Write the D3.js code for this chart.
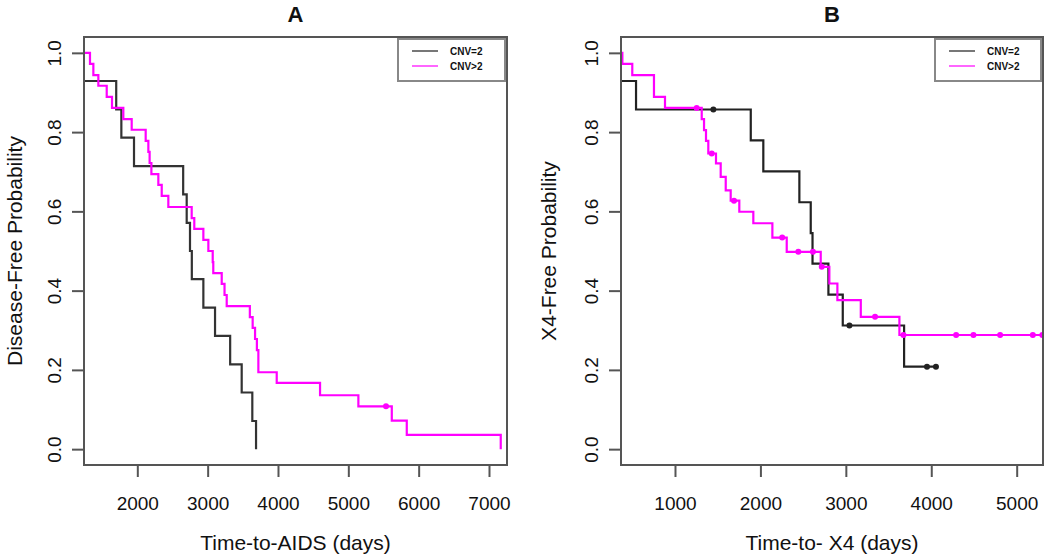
<!DOCTYPE html>
<html>
<head>
<meta charset="utf-8">
<script src="https://cdn.jsdelivr.net/npm/d3@7"></script>
<style>
  body { margin: 0; background: #fff; }
  svg text { font-family: "Liberation Sans", Arial, sans-serif; fill: #111; }
</style>
</head>
<body>
<div id="chart"></div>
<script>
// tick labels
const aTicks = [2000, 3000, 4000, 5000, 6000, 7000];
const bTicks = [1000, 2000, 3000, 4000, 5000];
const yTicks = [0, 0.2, 0.4, 0.6, 0.8, 1.0];
const legendLabels = ['CNV=2', 'CNV>2'];

// panel A, CNV=2 : step start times and survival
const aCnv2Time = [1242, 1700, 1773, 1953, 2652, 2702, 2749, 2775, 2939, 3105, 3320, 3484, 3635, 3688];
const aCnv2Surv = [0.929, 0.857, 0.786, 0.714, 0.643, 0.571, 0.5, 0.429, 0.357, 0.286, 0.214, 0.143, 0.071, 0];
// panel A, CNV>2
const aCnv3Time = [1242, 1327, 1375, 1446, 1565, 1640, 1801, 1920, 2119, 2157, 2175, 2200, 2299, 2347, 2441,
  2773, 2810, 2939, 3010, 3072, 3080, 3200, 3240, 3271, 3600, 3640, 3674, 3700, 3721, 3982, 4598, 5143, 5618, 5831, 7167];
const aCnv3Surv = [1.0, 0.972, 0.944, 0.917, 0.889, 0.861, 0.833, 0.806, 0.778, 0.75, 0.722, 0.694, 0.667, 0.639, 0.611,
  0.583, 0.556, 0.528, 0.5, 0.472, 0.444, 0.417, 0.389, 0.361, 0.333, 0.306, 0.278, 0.25, 0.194, 0.167, 0.136, 0.108, 0.072, 0.036, 0];
const aCnv3Cens = [5536];

// panel B, CNV=2
const bCnv2Time = [368, 544, 1887, 2034, 2456, 2589, 2610, 2796, 2964, 3682, 4055];
const bCnv2Surv = [0.929, 0.857, 0.779, 0.701, 0.623, 0.545, 0.468, 0.390, 0.312, 0.208, 0.208];
const bCnv2Cens = [1449, 3042, 3950, 4055];
// panel B, CNV>2
const bCnv3Time = [368, 384, 500, 754, 883, 1313, 1340, 1363, 1390, 1480, 1535, 1594, 1652, 1753, 1917, 2140,
  2308, 2706, 2807, 2901, 3175, 3627, 5306];
const bCnv3Surv = [1.0, 0.972, 0.944, 0.889, 0.861, 0.833, 0.805, 0.778, 0.746, 0.721, 0.687, 0.653, 0.627, 0.599, 0.57, 0.534,
  0.498, 0.46, 0.418, 0.376, 0.334, 0.288, 0.288];
const bCnv3Cens = [1254, 1430, 1691, 2255, 2444, 2615, 2718, 3342, 3674, 4291, 4494, 4806, 5189, 5300];

const W = 1050, H = 554;
const svg = d3.select('#chart').append('svg')
  .attr('width', W)
  .attr('height', H);

const y = d3.scaleLinear().domain([-0.04, 1.04]).range([465, 37]);

const panel = (opt) => {
  const x = d3.scaleLinear().domain(opt.domain).range(opt.range);
  const g = svg.append('g');
  const [x0, x1] = opt.range;

  // title
  g.append('text')
    .attr('x', (x0 + x1) / 2)
    .attr('y', 22)
    .attr('text-anchor', 'middle')
    .style('font-size', '22px')
    .style('font-weight', 'bold')
    .text(opt.title);

  // x axis
  const xAxis = g.append('g')
    .attr('transform', 'translate(0,465)')
    .call(d3.axisBottom(x).tickValues(opt.ticks).tickSize(12).tickPadding(20).tickFormat(d3.format('d')));
  xAxis.select('.domain').remove();
  xAxis.selectAll('line').attr('stroke', '#555').attr('stroke-width', 2);
  xAxis.selectAll('text').style('font-size', '19px').attr('fill', '#111');

  // y axis
  const yAxis = g.append('g')
    .attr('transform', `translate(${x0},0)`)
    .call(d3.axisLeft(y).tickValues(yTicks).tickSize(12).tickFormat(d3.format('.1f')));
  yAxis.select('.domain').remove();
  yAxis.selectAll('line').attr('stroke', '#555').attr('stroke-width', 2);
  yAxis.selectAll('text')
    .style('font-size', '19px')
    .attr('fill', '#111')
    .attr('text-anchor', 'middle')
    .attr('x', null)
    .attr('transform', 'translate(-30,0) rotate(-90)')
    .attr('dy', '0.35em');

  g.append('text')
    .attr('transform', `translate(${opt.ylabX},251) rotate(-90)`)
    .attr('text-anchor', 'middle')
    .attr('dy', '0.35em')
    .style('font-size', '21px')
    .text(opt.ylabel);

  g.append('text')
    .attr('x', (x0 + x1) / 2)
    .attr('y', 550)
    .attr('text-anchor', 'middle')
    .style('font-size', '21px')
    .text(opt.xlabel);

  // curves
  const clipId = 'clip' + opt.title;
  svg.append('clipPath').attr('id', clipId)
    .append('rect').attr('x', x0).attr('y', 37).attr('width', x1 - x0).attr('height', 428);
  const plot = g.append('g').attr('clip-path', `url(#${clipId})`);

  const line = d3.line()
    .x(d => x(d[0]))
    .y(d => y(d[1]))
    .curve(d3.curveStepAfter);

  opt.series.forEach(s => {
    const pts = d3.zip(s.time, s.surv);
    plot.append('path')
      .datum(pts)
      .attr('fill', 'none')
      .attr('stroke', s.color)
      .attr('stroke-width', 2.2)
      .attr('d', line);
    const level = t => s.surv[d3.bisectRight(s.time, t) - 1];
    plot.selectAll(null)
      .data(s.cens || [])
      .enter()
      .append('circle')
      .attr('cx', d => x(d))
      .attr('cy', d => y(level(d)))
      .attr('r', 3)
      .attr('fill', s.color);
  });

  // box
  g.append('rect')
    .attr('x', x0).attr('y', 37)
    .attr('width', x1 - x0).attr('height', 428)
    .attr('fill', 'none')
    .attr('stroke', '#555')
    .attr('stroke-width', 2);

  // legend
  const lx = opt.legendX;
  const leg = g.append('g');
  leg.append('rect')
    .attr('x', lx).attr('y', 39)
    .attr('width', x1 - 2 - lx).attr('height', 42)
    .attr('fill', '#fff')
    .attr('stroke', '#888')
    .attr('stroke-width', 2);
  const legColors = ['#777', '#ff66ff'];
  legendLabels.forEach((lab, i) => {
    const ly = 51 + i * 15;
    leg.append('line')
      .attr('x1', lx + 14).attr('x2', lx + 40)
      .attr('y1', ly).attr('y2', ly)
      .attr('stroke', legColors[i])
      .attr('stroke-width', 2);
    leg.append('text')
      .attr('x', lx + 52).attr('y', ly)
      .attr('dy', '0.35em')
      .style('font-size', '10px')
      .style('font-weight', 'bold')
      .text(lab);
  });
};

panel({
  title: 'A',
  domain: [1242, 7256],
  range: [84, 507],
  ticks: aTicks,
  ylabel: 'Disease-Free Probability',
  xlabel: 'Time-to-AIDS (days)',
  ylabX: 15,
  legendX: 398,
  series: [
    { time: aCnv2Time, surv: aCnv2Surv, color: '#333' },
    { time: aCnv3Time, surv: aCnv3Surv, cens: aCnv3Cens, color: '#ff00ff' }
  ]
});

panel({
  title: 'B',
  domain: [368, 5308],
  range: [621, 1043],
  ticks: bTicks,
  ylabel: 'X4-Free Probability',
  xlabel: 'Time-to- X4 (days)',
  ylabX: 549,
  legendX: 935,
  series: [
    { time: bCnv2Time, surv: bCnv2Surv, cens: bCnv2Cens, color: '#222' },
    { time: bCnv3Time, surv: bCnv3Surv, cens: bCnv3Cens, color: '#ff00ff' }
  ]
});
</script>
</body>
</html>
